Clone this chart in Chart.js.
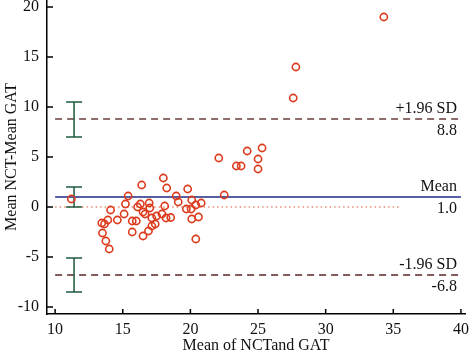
<!DOCTYPE html>
<html>
<head>
<meta charset="utf-8">
<script src="https://cdn.jsdelivr.net/npm/chart.js@4.4.1/dist/chart.umd.min.js"></script>
<style>
  html, body { margin: 0; padding: 0; background: #fff; }
  #wrap { width: 470px; height: 355px; }
</style>
</head>
<body>
<div id="wrap"><canvas id="baChart" width="470" height="355"></canvas></div>
<script>
// mean of the two methods (x) and their difference (y)
const meanValues = [11.2, 15.4, 15.2, 14.1, 15.1, 14.6, 13.9, 13.45, 13.65, 13.5, 13.75, 14.0,
  15.7, 15.7, 18.0, 16.4, 18.25, 19.8, 18.95, 19.1, 20.1, 20.8, 16.3, 16.95, 16.1, 17.0,
  18.1, 20.4, 19.7, 20.05, 16.5, 16.65, 17.9, 17.5, 17.15, 18.2, 18.55, 20.6, 20.1, 16.0,
  17.4, 17.15, 16.9, 16.5, 20.4, 22.1, 22.5, 23.4, 23.75, 24.2, 25.3, 25.0, 25.0, 27.6,
  27.8, 34.3];
const diffValues = [0.8, 1.1, 0.3, -0.3, -0.7, -1.3, -1.3, -1.6, -1.7, -2.6, -3.4, -4.2,
  -1.4, -2.5, 2.9, 2.2, 1.9, 1.8, 1.1, 0.5, 0.7, 0.4, 0.3, 0.4, 0.0, -0.1,
  0.1, 0.2, -0.2, -0.2, -0.5, -0.7, -0.7, -0.9, -1.1, -1.1, -1.05, -1.0, -1.2, -1.4,
  -1.7, -1.9, -2.4, -2.9, -3.2, 4.9, 1.2, 4.1, 4.1, 5.6, 5.9, 4.8, 3.8, 10.9,
  14.0, 19.0];

// agreement limits
const meanDiff = 1.0;
const upperLoA = 8.8;
const lowerLoA = -6.8;
const lineRange = [10, 40];
const zeroRange = [10, 35.5];

// confidence intervals drawn at the left
const ciX = 11.4;
const upperCI = [10.5, 7.0];
const meanCI = [2.0, 0.0];
const lowerCI = [-5.1, -8.5];

const xTicks = [10, 15, 20, 25, 30, 35, 40];
const yTicks = [-10, -5, 0, 5, 10, 15, 20];

const lineLabels = [
  { value: upperLoA, above: '+1.96 SD', below: upperLoA.toFixed(1) },
  { value: meanDiff, above: 'Mean', below: meanDiff.toFixed(1) },
  { value: lowerLoA, above: '-1.96 SD', below: lowerLoA.toFixed(1) }
];

const serif = '"Liberation Serif", "DejaVu Serif", serif';

const points = meanValues.map((m, i) => ({ x: m, y: diffValues[i] }));

function hLine(y, range) {
  return [{ x: range[0], y: y }, { x: range[1], y: y }];
}
function ciBar(ci) {
  return [{ x: ciX, y: ci[0] }, { x: ciX, y: ci[1] }];
}

// ticks pointing inward + labels on the limit lines
const extras = {
  id: 'extras',
  afterDraw(chart) {
    const ctx = chart.ctx;
    const xs = chart.scales.x, ys = chart.scales.y;
    const area = chart.chartArea;
    ctx.save();
    ctx.strokeStyle = '#000';
    ctx.lineWidth = 1.5;
    ctx.beginPath();
    xTicks.forEach(v => {
      const px = xs.getPixelForValue(v);
      ctx.moveTo(px, area.bottom);
      ctx.lineTo(px, area.bottom - 5);
    });
    yTicks.forEach(v => {
      const py = ys.getPixelForValue(v);
      ctx.moveTo(area.left, py);
      ctx.lineTo(area.left + 6, py);
    });
    ctx.stroke();

    ctx.fillStyle = '#111';
    ctx.font = '16px ' + serif;
    ctx.textAlign = 'right';
    const rx = xs.getPixelForValue(lineRange[1]) - 4;
    lineLabels.forEach(l => {
      const py = ys.getPixelForValue(l.value);
      ctx.textBaseline = 'middle';
      ctx.fillText(l.above, rx, py - 10);
      ctx.fillText(l.below, rx, py + 12);
    });
    ctx.restore();
  }
};

const dashColor = '#6b3d3d';
const ciColor = '#1d5a3c';

const ciStyle = {
  showLine: true,
  borderColor: ciColor,
  borderWidth: 1.5,
  pointStyle: 'line',
  pointRadius: 8,
  pointBorderWidth: 1.5,
  pointBorderColor: ciColor,
  order: 2
};

new Chart(document.getElementById('baChart'), {
  type: 'scatter',
  data: {
    datasets: [
      {
        label: 'differences',
        data: points,
        pointRadius: 3.6,
        pointBorderWidth: 1.6,
        pointBorderColor: '#dc3a1c',
        pointBackgroundColor: 'rgba(255,255,255,0)',
        order: 0
      },
      {
        label: 'mean',
        data: hLine(meanDiff, lineRange),
        showLine: true,
        borderColor: '#1f2a86',
        borderWidth: 1.3,
        pointRadius: 0,
        order: 3
      },
      {
        label: 'upper',
        data: hLine(upperLoA, lineRange),
        showLine: true,
        borderColor: dashColor,
        borderWidth: 1.5,
        borderDash: [7, 5],
        pointRadius: 0,
        order: 3
      },
      {
        label: 'lower',
        data: hLine(lowerLoA, lineRange),
        showLine: true,
        borderColor: '#5a2424',
        borderWidth: 1.5,
        borderDash: [7, 5],
        pointRadius: 0,
        order: 3
      },
      {
        label: 'zero',
        data: hLine(0, zeroRange),
        showLine: true,
        borderColor: '#d9532c',
        borderWidth: 1.2,
        borderDash: [1.5, 3],
        pointRadius: 0,
        order: 3
      },
      Object.assign({ label: 'ci upper', data: ciBar(upperCI) }, ciStyle),
      Object.assign({ label: 'ci mean', data: ciBar(meanCI) }, ciStyle),
      Object.assign({ label: 'ci lower', data: ciBar(lowerCI) }, ciStyle)
    ]
  },
  options: {
    responsive: false,
    animation: false,
    events: [],
    layout: { padding: { top: 0, right: 5, bottom: 0, left: 0 }, autoPadding: false },
    plugins: {
      legend: { display: false },
      tooltip: { enabled: false }
    },
    scales: {
      x: {
        type: 'linear',
        min: 9.4,
        max: 40.3,
        grid: { display: false, drawTicks: false },
        border: { display: true, color: '#000', width: 1.5 },
        ticks: {
          stepSize: 5,
          includeBounds: false,
          padding: 6,
          color: '#111',
          font: { family: serif, size: 16 }
        },
        title: {
          display: true,
          text: 'Mean of NCTand GAT',
          color: '#111',
          font: { family: serif, size: 16 },
          padding: { top: 0, bottom: 0 }
        },
        afterFit(scale) {
          scale.height = 41;
          scale.paddingLeft = 0;
          scale.paddingRight = 0;
        }
      },
      y: {
        type: 'linear',
        min: -10.7,
        max: 20.7,
        grid: { display: false, drawTicks: false },
        border: { display: true, color: '#000', width: 1.5 },
        ticks: {
          stepSize: 5,
          includeBounds: false,
          padding: 8,
          color: '#111',
          font: { family: serif, size: 16 }
        },
        title: {
          display: true,
          text: 'Mean NCT-Mean GAT',
          color: '#111',
          font: { family: serif, size: 16 },
          padding: { top: 2, bottom: 0 }
        },
        afterFit(scale) {
          scale.width = 47;
          scale.paddingTop = 0;
          scale.paddingBottom = 0;
        }
      }
    }
  },
  plugins: [extras]
});
</script>
</body>
</html>
